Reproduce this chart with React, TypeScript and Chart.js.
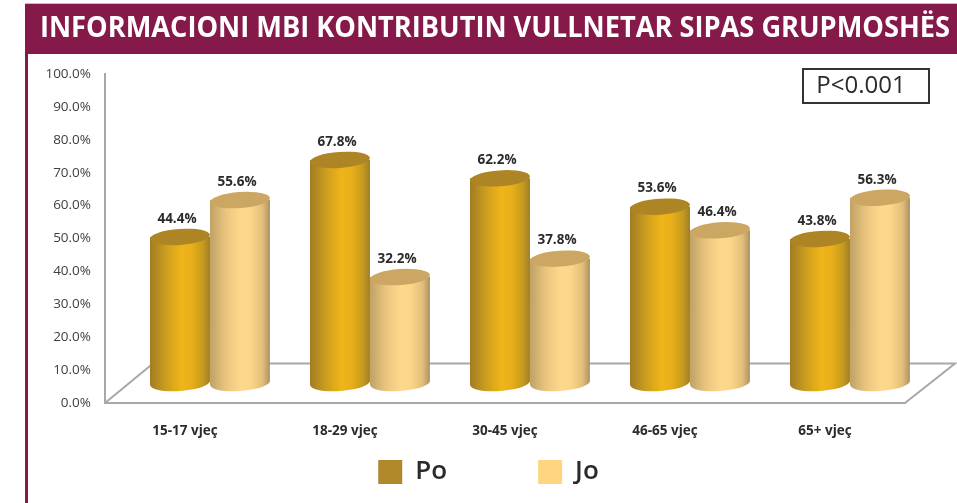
import React, { useEffect, useRef } from "react";
import { Chart, registerables } from "chart.js";

Chart.register(...registerables);

const categories = ["15-17 vjeç", "18-29 vjeç", "30-45 vjeç", "46-65 vjeç", "65+ vjeç"];
const poValues = [44.4, 67.8, 62.2, 53.6, 43.8];
const joValues = [55.6, 32.2, 37.8, 46.4, 56.3];
const titleText = "INFORMACIONI MBI KONTRIBUTIN VULLNETAR SIPAS GRUPMOSHËS";
const noteText = "P<0.001";
const FONT = "'Open Sans', sans-serif";

const DEPTH_X = 25;
const DEPTH_Y = 20;
const RY = 8;
const TILT = -0.07;

const palettes = [
  { stops: ["#a07c22", "#cf9f1e", "#efb418", "#ebb018", "#c49a20", "#a07e26"], top: "#ad8524" },
  { stops: ["#c0a264", "#ecc680", "#fdd98b", "#fcd689", "#e0bd7a", "#ac9360"], top: "#cba763" },
];

const cylinderPlugin = {
  id: "cylinders",
  afterLayout(chart: any) {
    const lg = chart.legend;
    lg.top = 368;
    lg.bottom = 503;
    lg.left = 56;
    lg.right = 921;
    const t = chart.titleBlock;
    t.right = 950;
  },
  beforeDraw(chart: any) {
    const c = chart.ctx;
    c.save();
    c.fillStyle = "#ffffff";
    c.fillRect(0, 0, chart.width, chart.height);
    c.fillStyle = "#85194a";
    c.fillRect(25, 4, chart.width - 25, 50);
    c.fillRect(25, 54, 3, chart.height - 54);
    c.fillStyle = "#d8b4c6";
    c.fillRect(25, 3, chart.width - 25, 1);
    c.restore();
  },
  beforeDatasetsDraw(chart: any) {
    const { ctx: c, scales } = chart;
    const x0 = scales.x.left;
    const x1 = scales.x.right;
    const y0 = scales.y.getPixelForValue(0);
    const backY = scales.y.getPixelForValue(12);
    c.save();
    c.strokeStyle = "#a8a8a8";
    c.lineWidth = 2;
    c.beginPath();
    c.moveTo(x0, y0);
    c.lineTo(x0 + 48, backY);
    c.lineTo(x1 + 50, backY);
    c.lineTo(x1, y0);
    c.stroke();
    c.restore();
  },
  beforeDatasetDraw(chart: any, args: any) {
    const c = chart.ctx;
    const meta = args.meta;
    const pal = palettes[args.index];
    meta.data.forEach((el: any) => {
      const props = el.getProps(["x", "y", "base", "width"], true);
      const cx = props.x + DEPTH_X;
      const rx = props.width / 2;
      const top = props.y - DEPTH_Y;
      const bottom = props.base - DEPTH_Y;
      const g = c.createLinearGradient(cx - rx, 0, cx + rx, 0);
      const pos = [0, 0.28, 0.52, 0.68, 0.88, 1];
      pal.stops.forEach((s: string, i: number) => g.addColorStop(pos[i], s));
      c.save();
      c.fillStyle = g;
      c.beginPath();
      c.moveTo(cx - rx, top);
      c.lineTo(cx - rx, bottom);
      c.ellipse(cx, bottom, rx, RY, TILT, Math.PI, 0, true);
      c.lineTo(cx + rx, top);
      c.closePath();
      c.fill();
      c.fillStyle = pal.top;
      c.beginPath();
      c.ellipse(cx, top, rx, RY, TILT, 0, Math.PI * 2);
      c.fill();
      c.restore();
    });
    return false;
  },
  afterDatasetsDraw(chart: any) {
    const c = chart.ctx;
    c.save();
    c.fillStyle = "#2b2b2b";
    c.font = `bold 13.5px ${FONT}`;
    c.textAlign = "center";
    c.textBaseline = "middle";
    chart.data.datasets.forEach((ds: any, i: number) => {
      chart.getDatasetMeta(i).data.forEach((el: any, j: number) => {
        const v = ds.data[j];
        c.fillText(`${v.toFixed(1)}%`, el.x + DEPTH_X - 3, el.y - DEPTH_Y - 18);
      });
    });
    c.strokeStyle = "#333333";
    c.lineWidth = 2;
    c.strokeRect(803, 69, 126, 34);
    c.fillStyle = "#2b2b2b";
    c.font = `24px ${FONT}`;
    c.fillText(noteText, 861, 86);
    c.restore();
  },
};

export default function App() {
  const ref = useRef<HTMLCanvasElement>(null);
  useEffect(() => {
    const chart = new Chart(ref.current as HTMLCanvasElement, {
      type: "bar",
      data: {
        labels: categories,
        datasets: [
          { label: "Po", data: poValues, backgroundColor: "#b0892c", borderWidth: 0 },
          { label: "Jo", data: joValues, backgroundColor: "#ffd580", borderWidth: 0 },
        ],
      },
      plugins: [cylinderPlugin],
      options: {
        responsive: false,
        animation: false,
        layout: { padding: { left: 40, right: 52, top: 0, bottom: 0 } },
        datasets: { bar: { categoryPercentage: 0.75, barPercentage: 1 } },
        plugins: {
          tooltip: { enabled: false },
          title: {
            display: true,
            text: titleText,
            align: "start",
            color: "#ffffff",
            font: { family: FONT, size: 29, weight: "bold", lineHeight: 1.2 },
            padding: { top: 11, bottom: 28.2 },
          },
          legend: {
            display: true,
            position: "bottom",
            maxHeight: 40,
            labels: {
              boxWidth: 24,
              boxHeight: 24,
              padding: 91,
              color: "#2b2b2b",
              font: { family: FONT, size: 26, weight: "600" },
            },
          },
        },
        scales: {
          x: {
            grid: { display: false, drawTicks: false },
            border: { color: "#a8a8a8", width: 2 },
            ticks: { color: "#2b2b2b", padding: 20, maxRotation: 0, font: { family: FONT, size: 13.5, weight: "bold" } },
            afterFit: (s: any) => { s.height = 60; },
          },
          y: {
            min: 0,
            max: 100,
            grid: { display: false, drawTicks: false },
            border: { color: "#a8a8a8", width: 2 },
            ticks: {
              stepSize: 10,
              color: "#404040",
              padding: 14,
              font: { family: FONT, size: 13.5 },
              callback: (v: any) => `${Number(v).toFixed(1)}%`,
            },
            afterFit: (s: any) => { s.width = 65; },
          },
        },
      },
    } as any);
    return () => chart.destroy();
  }, []);
  return (
    <canvas
      ref={ref}
      width={957}
      height={503}
      style={{ position: "absolute", left: 0, top: 0, display: "block" }}
    />
  );
}
